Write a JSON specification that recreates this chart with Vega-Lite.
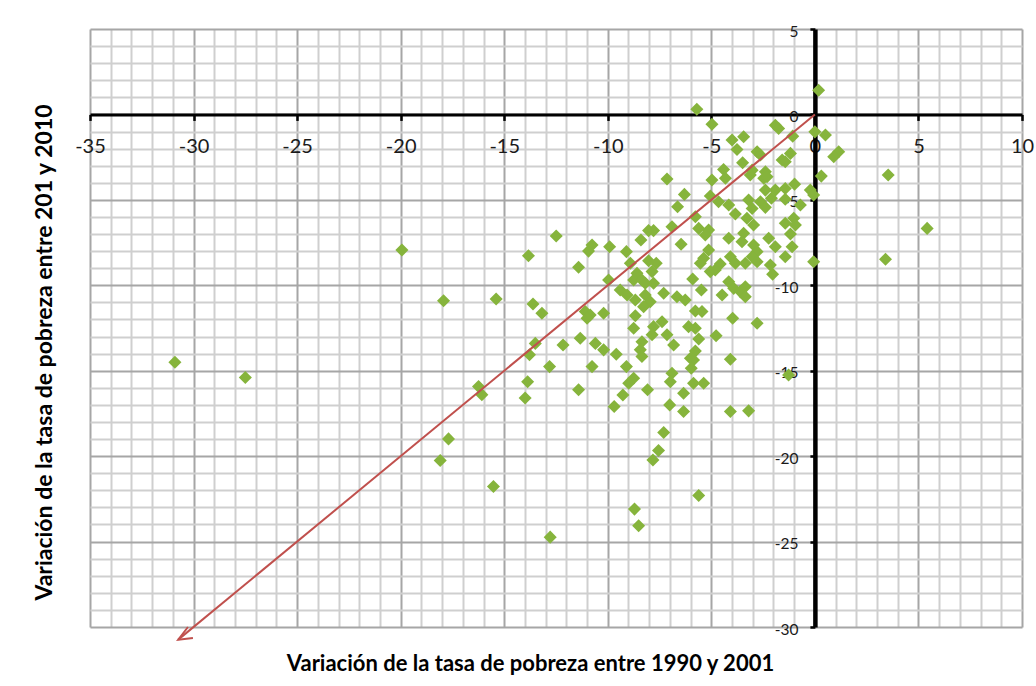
{
  "$schema": "https://vega.github.io/schema/vega-lite/v6.json",
  "width": 932,
  "height": 598,
  "autosize": {"type": "none"},
  "padding": {"left": 90, "top": 29, "right": 14, "bottom": 59},
  "background": "#ffffff",
  "config": {"view": {"stroke": null}, "font": "Lato"},
  "datasets": {
    "pts": [
      {"x": -30.9, "y": -14.5}, {"x": -27.5, "y": -15.4}, {"x": -19.94, "y": -7.94}, {"x": -17.93, "y": -10.9},
      {"x": -15.39, "y": -10.8}, {"x": -13.61, "y": -11.1}, {"x": -13.83, "y": -8.27}, {"x": -13.5, "y": -13.4},
      {"x": -13.78, "y": -14.06}, {"x": -16.24, "y": -15.93}, {"x": -16.08, "y": -16.4}, {"x": -13.87, "y": -15.64},
      {"x": -13.99, "y": -16.6}, {"x": -17.69, "y": -18.99}, {"x": -18.09, "y": -20.26}, {"x": -15.52, "y": -21.78},
      {"x": -12.78, "y": -24.74}, {"x": -13.18, "y": -11.64},
      {"x": -7.14, "y": -3.78}, {"x": -6.3, "y": -4.68}, {"x": -6.63, "y": -5.4}, {"x": -12.49, "y": -7.12},
      {"x": -6.9, "y": -6.57}, {"x": -6.46, "y": -7.6}, {"x": -8.03, "y": -6.8}, {"x": -7.79, "y": -6.8},
      {"x": -8.4, "y": -7.35}, {"x": -10.76, "y": -7.64}, {"x": -10.93, "y": -8.0}, {"x": -9.91, "y": -7.74},
      {"x": -9.1, "y": -8.03}, {"x": -11.41, "y": -8.95}, {"x": -8.03, "y": -8.56}, {"x": -7.66, "y": -8.71},
      {"x": -8.91, "y": -8.71},
      {"x": -5.7, "y": 0.3}, {"x": -4.97, "y": -0.57}, {"x": -1.91, "y": -0.63}, {"x": -1.75, "y": -0.82},
      {"x": -1.07, "y": -1.27}, {"x": 0.0, "y": -1.02}, {"x": 0.51, "y": -1.21}, {"x": -4.0, "y": -1.5},
      {"x": -3.44, "y": -1.31}, {"x": -3.76, "y": -2.05}, {"x": -2.79, "y": -2.19}, {"x": -2.63, "y": -2.38},
      {"x": -3.49, "y": -2.83}, {"x": -3.03, "y": -3.26}, {"x": -3.12, "y": -3.55}, {"x": -2.39, "y": -3.36},
      {"x": -2.47, "y": -3.74}, {"x": -2.31, "y": -3.65}, {"x": -1.58, "y": -2.67}, {"x": -1.43, "y": -2.77},
      {"x": -1.18, "y": -2.28}, {"x": -4.41, "y": -3.22}, {"x": -4.32, "y": -3.74}, {"x": -4.97, "y": -3.84},
      {"x": -5.05, "y": -4.78}, {"x": 0.31, "y": -3.61}, {"x": -0.22, "y": -4.43}, {"x": -0.06, "y": -4.72},
      {"x": -0.98, "y": -4.08}, {"x": -1.43, "y": -4.33}, {"x": -1.91, "y": -4.43}, {"x": -2.39, "y": -4.43},
      {"x": -2.1, "y": -4.91}, {"x": -2.63, "y": -5.11}, {"x": -3.2, "y": -5.01}, {"x": -1.43, "y": -4.97},
      {"x": -0.7, "y": -5.3}, {"x": -3.03, "y": -5.5}, {"x": -2.39, "y": -5.44}, {"x": -4.16, "y": -5.3},
      {"x": -4.65, "y": -5.11}, {"x": -3.84, "y": -5.83}, {"x": -5.77, "y": -5.99}, {"x": -5.61, "y": -6.67},
      {"x": -5.13, "y": -6.77}, {"x": -5.29, "y": -7.06}, {"x": -3.28, "y": -6.08}, {"x": -2.96, "y": -6.47},
      {"x": -1.43, "y": -6.37}, {"x": -1.02, "y": -6.08}, {"x": -0.94, "y": -6.47}, {"x": -1.18, "y": -7.0},
      {"x": -4.16, "y": -7.25}, {"x": -3.44, "y": -6.96}, {"x": -3.52, "y": -7.45}, {"x": -2.23, "y": -7.25},
      {"x": -1.91, "y": -7.74}, {"x": -2.96, "y": -7.64}, {"x": -2.79, "y": -8.03}, {"x": -3.03, "y": -8.33},
      {"x": -1.1, "y": -7.74}, {"x": -1.43, "y": -8.33}, {"x": -0.06, "y": -8.62}, {"x": -5.13, "y": -7.94},
      {"x": -5.37, "y": -8.42}, {"x": -5.53, "y": -8.71}, {"x": -4.08, "y": -8.33}, {"x": -3.84, "y": -8.71},
      {"x": -4.57, "y": -8.75}, {"x": -3.36, "y": -8.71}, {"x": -2.79, "y": -8.62}, {"x": -2.15, "y": -8.81},
      {"x": -9.96, "y": -9.69}, {"x": -8.59, "y": -9.3}, {"x": -8.75, "y": -9.69}, {"x": -8.35, "y": -9.69},
      {"x": -7.86, "y": -9.2}, {"x": -7.79, "y": -9.88}, {"x": -8.19, "y": -9.88}, {"x": -7.3, "y": -10.47},
      {"x": -6.66, "y": -10.67}, {"x": -6.26, "y": -10.86}, {"x": -9.4, "y": -10.27}, {"x": -9.07, "y": -10.57},
      {"x": -8.67, "y": -10.86}, {"x": -8.19, "y": -10.57}, {"x": -7.95, "y": -10.96}, {"x": -8.27, "y": -11.25},
      {"x": -11.09, "y": -11.54}, {"x": -10.85, "y": -11.74}, {"x": -10.2, "y": -11.64}, {"x": -11.0, "y": -11.93},
      {"x": -8.67, "y": -11.78}, {"x": -8.75, "y": -12.51}, {"x": -7.79, "y": -12.42}, {"x": -7.38, "y": -12.13},
      {"x": -7.86, "y": -12.9}, {"x": -8.35, "y": -13.3}, {"x": -8.43, "y": -13.78}, {"x": -8.35, "y": -14.17},
      {"x": -7.14, "y": -12.9}, {"x": -6.82, "y": -13.49}, {"x": -12.16, "y": -13.49}, {"x": -11.33, "y": -13.1},
      {"x": -10.6, "y": -13.4}, {"x": -10.2, "y": -13.78}, {"x": -9.59, "y": -14.04}, {"x": -12.81, "y": -14.76},
      {"x": -10.76, "y": -14.76}, {"x": -9.1, "y": -14.76}, {"x": -8.75, "y": -15.44}, {"x": -8.99, "y": -15.73},
      {"x": -11.41, "y": -16.12}, {"x": -8.08, "y": -16.12}, {"x": -9.27, "y": -16.42}, {"x": -9.69, "y": -17.1},
      {"x": -6.9, "y": -15.15}, {"x": -6.98, "y": -15.64}, {"x": -7.01, "y": -17.0}, {"x": -6.34, "y": -17.39},
      {"x": -6.34, "y": -16.32},
      {"x": -5.05, "y": -9.2}, {"x": -4.81, "y": -9.1}, {"x": -2.04, "y": -9.36}, {"x": -5.9, "y": -9.63},
      {"x": -5.48, "y": -10.27}, {"x": -4.48, "y": -10.57}, {"x": -4.16, "y": -9.79}, {"x": -3.92, "y": -10.18},
      {"x": -3.6, "y": -10.37}, {"x": -3.36, "y": -10.08}, {"x": -3.36, "y": -10.67}, {"x": -5.77, "y": -11.5},
      {"x": -5.45, "y": -11.54}, {"x": -3.97, "y": -11.93}, {"x": -2.79, "y": -12.22}, {"x": -6.1, "y": -12.42},
      {"x": -5.77, "y": -12.51}, {"x": -4.77, "y": -12.95}, {"x": -5.61, "y": -13.14}, {"x": -5.77, "y": -13.84},
      {"x": -6.01, "y": -14.27}, {"x": -5.86, "y": -14.37}, {"x": -5.97, "y": -14.85}, {"x": -4.08, "y": -14.33},
      {"x": -5.86, "y": -15.73}, {"x": -5.37, "y": -15.73}, {"x": -4.08, "y": -17.39}, {"x": -3.2, "y": -17.35},
      {"x": -1.27, "y": -15.25},
      {"x": -7.3, "y": -18.62}, {"x": -7.55, "y": -19.67}, {"x": -7.82, "y": -20.22}, {"x": -5.61, "y": -22.3},
      {"x": -8.71, "y": -23.1}, {"x": -8.51, "y": -24.08},
      {"x": 0.18, "y": 1.42}, {"x": 1.15, "y": -2.19}, {"x": 0.91, "y": -2.48}, {"x": 3.54, "y": -3.55},
      {"x": 5.42, "y": -6.67}, {"x": 3.41, "y": -8.48}
    ],
    "arrow": [
      {"seg": "shaft", "o": 0, "x": 0, "y": 0},
      {"seg": "shaft", "o": 1, "x": -30.74, "y": -30.74},
      {"seg": "head", "o": 0, "x": -30.27, "y": -30.0},
      {"seg": "head", "o": 1, "x": -30.74, "y": -30.74},
      {"seg": "head", "o": 2, "x": -30.03, "y": -30.64}
    ]
  },
  "encoding": {
    "x": {
      "field": "x", "type": "quantitative",
      "scale": {"domain": [-35, 10], "nice": false, "zero": false},
      "axis": {
        "orient": "bottom",
        "offset": -512.57,
        "values": [-35,-34,-33,-32,-31,-30,-29,-28,-27,-26,-25,-24,-23,-22,-21,-20,-19,-18,-17,-16,-15,-14,-13,-12,-11,-10,-9,-8,-7,-6,-5,-4,-3,-2,-1,0,1,2,3,4,5,6,7,8,9,10],
        "labelExpr": "datum.value % 5 === 0 ? '' + datum.value : ''",
        "labelFont": "Lato", "labelFontSize": 20, "labelColor": "#1a1a1a",
        "labelPadding": 16, "labelFlush": false, "labelOverlap": false, "labelBound": false,
        "tickSize": 6, "tickWidth": 2.5, "tickColor": "#000000",
        "tickOpacity": {"condition": {"test": "datum.value % 5 !== 0", "value": 0}, "value": 1},
        "domainColor": "#000000", "domainWidth": 3,
        "grid": true,
        "gridColor": {"condition": {"test": "datum.value % 5 === 0", "value": "#a6a6a6"}, "value": "#cfcfcf"},
        "gridWidth": 2,
        "title": "Variación de la tasa de pobreza entre 1990 y 2001",
        "titleFont": "Lato", "titleFontSize": 22, "titleFontWeight": "bold", "titleColor": "#000000",
        "titleX": 440, "titleY": 549, "titleAlign": "center", "titleBaseline": "middle", "titleAngle": 0
      }
    },
    "y": {
      "field": "y", "type": "quantitative",
      "scale": {"domain": [-30, 5], "nice": false, "zero": false},
      "axis": {
        "orient": "left",
        "offset": -724.9,
        "values": [-30,-29,-28,-27,-26,-25,-24,-23,-22,-21,-20,-19,-18,-17,-16,-15,-14,-13,-12,-11,-10,-9,-8,-7,-6,-5,-4,-3,-2,-1,0,1,2,3,4,5],
        "labelExpr": "datum.value % 5 === 0 ? '' + datum.value : ''",
        "labelFont": "Lato", "labelFontSize": 15.5, "labelColor": "#1a1a1a",
        "labelPadding": 12, "labelOffset": 2, "labelFlush": false, "labelOverlap": false, "labelBound": false,
        "tickSize": 5, "tickWidth": 2.5, "tickColor": "#000000",
        "tickOpacity": {"condition": {"test": "datum.value % 5 !== 0", "value": 0}, "value": 1},
        "domainColor": "#000000", "domainWidth": 4.5,
        "grid": true,
        "gridColor": {"condition": {"test": "datum.value % 5 === 0", "value": "#a6a6a6"}, "value": "#cfcfcf"},
        "gridWidth": 2,
        "title": "Variación de la tasa de pobreza entre 201 y 2010",
        "titleFont": "Lato", "titleFontSize": 23, "titleFontWeight": "bold", "titleColor": "#000000",
        "titleX": -770, "titleY": 323, "titleAlign": "center", "titleBaseline": "middle", "titleAngle": 270
      }
    }
  },
  "layer": [
    {
      "data": {"name": "pts"},
      "mark": {"type": "point", "shape": "diamond", "filled": true, "size": 170, "color": "#86b43c", "opacity": 1}
    },
    {
      "data": {"name": "arrow"},
      "mark": {"type": "line", "color": "#c0504d", "strokeWidth": 2, "clip": false},
      "encoding": {
        "detail": {"field": "seg"},
        "order": {"field": "o", "type": "quantitative"}
      }
    }
  ]
}
